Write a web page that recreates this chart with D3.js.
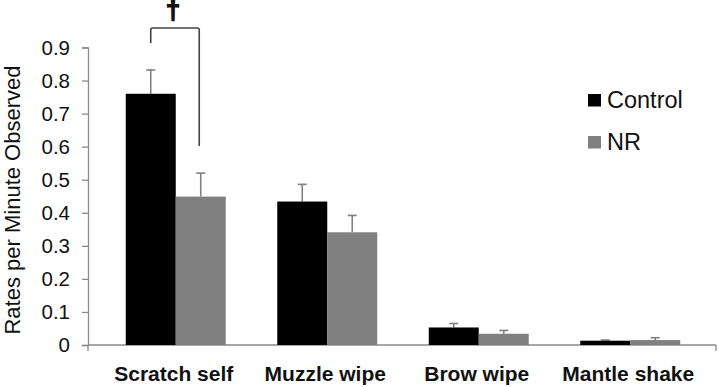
<!DOCTYPE html>
<html>
<head>
<meta charset="utf-8">
<script src="https://cdn.jsdelivr.net/npm/d3@7"></script>
<style>
  body { margin: 0; background: #fff; }
  svg { display: block; font-family: Arial, "Liberation Sans", sans-serif; }
</style>
</head>
<body>
<svg width="719" height="387"></svg>
<script>
const categories = ['Scratch self', 'Muzzle wipe', 'Brow wipe', 'Mantle shake'];
const groups = ['Control', 'NR'];
const controlValues = [0.76, 0.434, 0.053, 0.013];
const controlErrors = [0.072, 0.052, 0.012, 0.002];
const nrValues = [0.449, 0.341, 0.034, 0.015];
const nrErrors = [0.071, 0.051, 0.010, 0.007];
const yTicks = [0, 0.1, 0.2, 0.3, 0.4, 0.5, 0.6, 0.7, 0.8, 0.9];

const colors = { Control: '#000000', NR: '#808080' };

const data = categories.map((c, i) => ({
  category: c,
  values: [
    { group: 'Control', value: controlValues[i], err: controlErrors[i] },
    { group: 'NR', value: nrValues[i], err: nrErrors[i] }
  ]
}));

const svg = d3.select('svg');

const axisX = 88, axisRight = 716;

const y = d3.scaleLinear()
  .domain([0, 0.9])
  .range([345, 47.5]);

const x0 = d3.scaleBand()
  .domain(categories)
  .range([100, 706])
  .paddingInner(0.34)
  .paddingOuter(0.17);

const x1 = d3.scaleBand()
  .domain(groups)
  .range([0, x0.bandwidth()]);

// y axis
const yAxis = d3.axisLeft(y)
  .tickValues(yTicks)
  .tickFormat(d => d === 0 ? '0' : d3.format('.1f')(d))
  .tickSize(6)
  .tickPadding(12);

const yAxisG = svg.append('g')
  .attr('transform', `translate(${axisX},0)`)
  .call(yAxis);
yAxisG.select('.domain').attr('stroke', '#8a8a8a').attr('stroke-width', 1.3);
yAxisG.selectAll('.tick line').attr('stroke', '#8a8a8a').attr('stroke-width', 1.3);
yAxisG.selectAll('.tick text')
  .attr('fill', '#111')
  .attr('font-size', '20.5px')
  .attr('font-family', 'Arial, "Liberation Sans", sans-serif');

// x axis line with end ticks
const base = y(0);
svg.append('line')
  .attr('x1', axisX).attr('x2', axisRight)
  .attr('y1', base).attr('y2', base)
  .attr('stroke', '#8a8a8a').attr('stroke-width', 1.3);
[axisX, axisRight].forEach(px => {
  svg.append('line')
    .attr('x1', px).attr('x2', px)
    .attr('y1', base).attr('y2', base + 6)
    .attr('stroke', '#8a8a8a').attr('stroke-width', 1.3);
});

// bars
const groupG = svg.selectAll('g.cat')
  .data(data)
  .enter().append('g')
  .attr('class', 'cat')
  .attr('transform', d => `translate(${x0(d.category)},0)`);

groupG.selectAll('line.err')
  .data(d => d.values)
  .enter().append('line')
  .attr('class', 'err')
  .attr('x1', d => x1(d.group) + x1.bandwidth() / 2)
  .attr('x2', d => x1(d.group) + x1.bandwidth() / 2)
  .attr('y1', d => y(d.value))
  .attr('y2', d => y(d.value + d.err))
  .attr('stroke', '#808080')
  .attr('stroke-width', 1.6);

groupG.selectAll('line.cap')
  .data(d => d.values)
  .enter().append('line')
  .attr('class', 'cap')
  .attr('x1', d => x1(d.group) + x1.bandwidth() / 2 - 4.5)
  .attr('x2', d => x1(d.group) + x1.bandwidth() / 2 + 4.5)
  .attr('y1', d => y(d.value + d.err))
  .attr('y2', d => y(d.value + d.err))
  .attr('stroke', '#808080')
  .attr('stroke-width', 1.6);

groupG.selectAll('rect')
  .data(d => d.values)
  .enter().append('rect')
  .attr('x', d => x1(d.group))
  .attr('width', x1.bandwidth())
  .attr('y', d => y(d.value))
  .attr('height', d => base - y(d.value))
  .attr('fill', d => colors[d.group]);

// category labels
svg.selectAll('text.cat-label')
  .data(categories)
  .enter().append('text')
  .attr('class', 'cat-label')
  .attr('x', d => x0(d) + x0.bandwidth() / 2 - 2)
  .attr('y', 381)
  .attr('text-anchor', 'middle')
  .attr('font-size', '21px')
  .attr('font-weight', 'bold')
  .attr('fill', '#111')
  .text(d => d);

// y axis title
svg.append('text')
  .attr('transform', 'translate(19.5,200) rotate(-90)')
  .attr('text-anchor', 'middle')
  .attr('font-size', '22px')
  .attr('fill', '#111')
  .text('Rates per Minute Observed');

// significance bracket
const sc = categories[0];
const bx1 = x0(sc) + x1('Control') + x1.bandwidth() / 2;
const bx2 = x0(sc) + x1('NR') + x1.bandwidth() / 2 - 1.5;
const by = 28;
svg.append('path')
  .attr('d', `M${bx1},43 V${by + 2} Q${bx1},${by} ${bx1 + 2},${by} H${bx2 - 2} Q${bx2},${by} ${bx2},${by + 2} V146`)
  .attr('fill', 'none')
  .attr('stroke', '#444')
  .attr('stroke-width', 1.6);
svg.append('text')
  .attr('x', (bx1 + bx2) / 2 - 2)
  .attr('y', 19)
  .attr('text-anchor', 'middle')
  .attr('font-size', '26px')
  .attr('font-weight', 'bold')
  .attr('fill', '#111')
  .attr('stroke', '#111')
  .attr('stroke-width', 1.2)
  .text('\u2020');

// legend
const legend = svg.append('g').attr('transform', 'translate(588,94)');
groups.forEach((g, i) => {
  const row = legend.append('g').attr('transform', `translate(0,${i * 42})`);
  row.append('rect')
    .attr('width', 13).attr('height', 12.5)
    .attr('fill', colors[g]);
  row.append('text')
    .attr('x', 19)
    .attr('y', 13.5)
    .attr('font-size', '23.5px')
    .attr('fill', '#111')
    .text(g);
});
</script>
</body>
</html>
